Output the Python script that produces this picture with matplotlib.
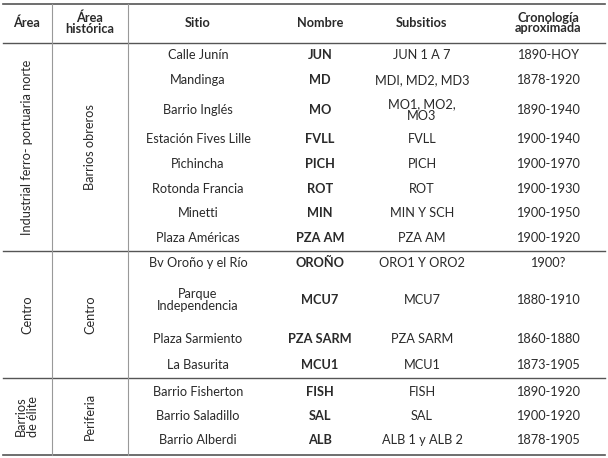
import matplotlib.pyplot as plt

plt.rcParams['font.family'] = ['Lato', 'DejaVu Sans']

headers = ["Área", "Área\nhistórica", "Sitio", "Nombre", "Subsitios", "Cronología\naproximada"]
sitios = ["Calle Junín", "Mandinga", "Barrio Inglés", "Estación Fives Lille", "Pichincha",
          "Rotonda Francia", "Minetti", "Plaza Américas", "Bv Oroño y el Río",
          "Parque\nIndependencia", "Plaza Sarmiento", "La Basurita",
          "Barrio Fisherton", "Barrio Saladillo", "Barrio Alberdi"]
nombres = ["JUN", "MD", "MO", "FVLL", "PICH", "ROT", "MIN", "PZA AM", "OROÑO",
           "MCU7", "PZA SARM", "MCU1", "FISH", "SAL", "ALB"]
subsitios = ["JUN 1 A 7", "MDI, MD2, MD3", "MO1, MO2,\nMO3", "FVLL", "PICH", "ROT",
             "MIN Y SCH", "PZA AM", "ORO1 Y ORO2", "MCU7", "PZA SARM", "MCU1",
             "FISH", "SAL", "ALB 1 y ALB 2"]
cronologia = ["1890-HOY", "1878-1920", "1890-1940", "1900-1940", "1900-1970", "1900-1930",
              "1900-1950", "1900-1920", "1900?", "1880-1910", "1860-1880", "1873-1905",
              "1890-1920", "1900-1920", "1878-1905"]
areas = ["Industrial ferro- portuaria norte", "Centro", "Barrios\nde élite"]
areas_hist = ["Barrios obreros", "Centro", "Periferia"]

# layout (pixels)
row_y = [55, 80, 110, 139, 164, 189, 213, 238, 263, 300, 339, 365, 392, 416, 440]
groups = [(43, 251), (251, 378), (378, 455)]
col_x = [27, 90, 198, 320, 422, 548]

fig = plt.figure(figsize=(6.08, 4.58), dpi=100)
ax = fig.add_axes([0, 0, 1, 1])
ax.set_xlim(0, 608)
ax.set_ylim(458, 0)
ax.axis('off')

c = '#2a2a2a'
fs = 9.2
for x, h in zip(col_x, headers):
    ax.text(x, 23, h, ha='center', va='center', fontsize=fs, fontweight='bold', color=c,
            linespacing=0.9)

for i, y in enumerate(row_y):
    ax.text(col_x[2], y, sitios[i], ha='center', va='center', fontsize=fs, color=c, linespacing=0.9)
    ax.text(col_x[3], y, nombres[i], ha='center', va='center', fontsize=fs, color=c, fontweight='bold')
    ax.text(col_x[4], y, subsitios[i], ha='center', va='center', fontsize=fs, color=c, linespacing=0.9)
    ax.text(col_x[5], y, cronologia[i], ha='center', va='center', fontsize=fs, color=c)

for (y0, y1), a, ah in zip(groups, areas, areas_hist):
    ym = (y0 + y1) / 2
    ax.text(col_x[0], ym, a, ha='center', va='center', rotation=90, fontsize=fs, color=c,
            linespacing=1.05)
    ax.text(col_x[1], ym, ah, ha='center', va='center', rotation=90, fontsize=fs, color=c)

lc = '#555555'
for y, lw in [(4, 1.2), (43, 1.0), (251, 1.0), (378, 1.0), (455, 1.2)]:
    ax.plot([3, 605], [y, y], color=lc, lw=lw)
for x in [52, 128]:
    ax.plot([x, x], [4, 455], color='#999999', lw=0.8)

fig.savefig('out.png', dpi=100)
